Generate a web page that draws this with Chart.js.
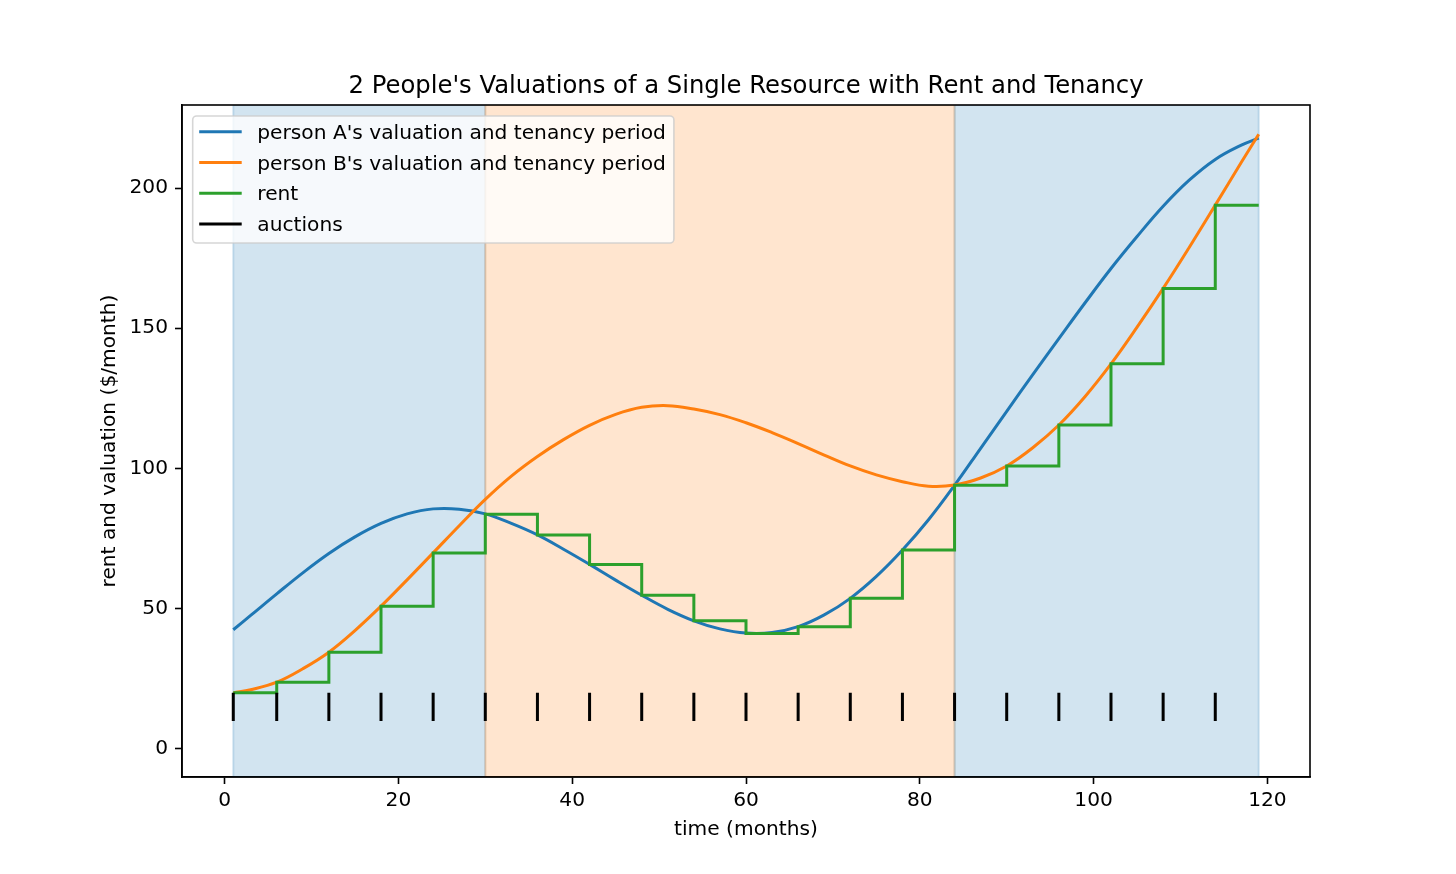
<!DOCTYPE html>
<html>
<head>
<meta charset="utf-8">
<script src="https://cdn.jsdelivr.net/npm/chart.js@4.4.1/dist/chart.umd.min.js"></script>
<style>
  html, body { margin: 0; padding: 0; background: #fff; }
  #wrap { width: 1456px; height: 874px; }
</style>
</head>
<body>
<div id="wrap"><canvas id="chart" width="1456" height="874"></canvas></div>
<script>
var months = [1, 3, 6, 9, 12, 15, 18, 21, 24, 27, 30, 33, 36, 39, 42, 45, 48, 51, 54, 57,
              60, 63, 66, 69, 72, 75, 78, 81, 84, 87, 90, 93, 96, 99, 102, 105, 108, 111, 114, 117, 119];
var valuationA = [42.5, 47.6, 55.3, 62.8, 69.7, 75.6, 80.4, 83.8, 85.6, 85.5, 83.8, 80.4, 76.3, 71.2, 65.8, 60.2, 54.8, 49.8, 45.7, 42.8,
                  41.3, 41.5, 43.6, 47.8, 53.7, 61.5, 70.9, 81.7, 94.0, 107.2, 120.4, 133.5, 146.3, 159.0, 171.3, 182.7, 193.5, 202.8, 210.2, 215.3, 217.8];
var valuationB = [20.0, 21.1, 23.8, 28.6, 34.5, 42.2, 50.9, 60.3, 69.9, 79.6, 89.0, 97.3, 104.3, 110.3, 115.4, 119.3, 121.8, 122.4, 121.2, 119.2,
                  116.3, 112.8, 108.9, 104.8, 100.9, 97.7, 95.3, 93.7, 94.1, 96.6, 100.9, 107.4, 115.5, 125.6, 137.3, 150.4, 164.2, 178.8, 193.9, 209.2, 219.2];

// auctions and the rent set at each one
var auctionMonths = [1, 6, 12, 18, 24, 30, 36, 42, 48, 54, 60, 66, 72, 78, 84, 90, 96, 102, 108, 114];
var rentAtAuction = [20.0, 23.8, 34.5, 50.9, 69.9, 83.7, 76.3, 65.8, 54.8, 45.7, 41.2, 43.6, 53.7, 70.9, 94.0, 100.9, 115.5, 137.3, 164.2, 193.9];
var lastMonth = 119;
var auctionMarkLow = 10;
var auctionMarkHigh = 20;

// tenancy periods (0 = person A, 1 = person B)
var tenancyStart = [1, 30, 84];
var tenancyEnd = [30, 84, 119];
var tenant = [0, 1, 0];

var xTicks = [0, 20, 40, 60, 80, 100, 120];
var yTicks = [0, 50, 100, 150, 200];

var chartTitle = "2 People's Valuations of a Single Resource with Rent and Tenancy";
var personColors = ['#1f77b4', '#ff7f0e'];
var spanFill = ['rgba(31,119,180,0.2)', 'rgba(255,127,14,0.2)'];
var FONT = 'DejaVu Sans';

function toPoints(xs, ys) {
    return xs.map(function (x, i) { return { x: x, y: ys[i] }; });
}

var rentPoints = toPoints(auctionMonths, rentAtAuction);
rentPoints.push({ x: lastMonth, y: rentAtAuction[rentAtAuction.length - 1] });

var auctionPoints = [];
auctionMonths.forEach(function (m) {
    auctionPoints.push({ x: m, y: auctionMarkLow }, { x: m, y: auctionMarkHigh }, { x: m, y: null });
});

var tenancyShading = {
    id: 'tenancyShading',
    beforeDatasetsDraw: function (chart) {
        var ctx = chart.ctx, area = chart.chartArea, xs = chart.scales.x;
        ctx.save();
        ctx.beginPath();
        ctx.rect(area.left, area.top, area.right - area.left, area.bottom - area.top);
        ctx.clip();
        for (var i = 0; i < tenancyStart.length; i++) {
            var x0 = xs.getPixelForValue(tenancyStart[i]);
            var x1 = xs.getPixelForValue(tenancyEnd[i]);
            ctx.fillStyle = spanFill[tenant[i]];
            ctx.fillRect(x0, area.top, x1 - x0, area.bottom - area.top);
            ctx.strokeStyle = spanFill[tenant[i]];
            ctx.lineWidth = 2;
            ctx.strokeRect(x0, area.top, x1 - x0, area.bottom - area.top);
        }
        ctx.restore();
    }
};

var frameTitleLegend = {
    id: 'frameTitleLegend',
    afterDraw: function (chart) {
        var ctx = chart.ctx, area = chart.chartArea;
        ctx.save();
        // four spines
        ctx.strokeStyle = '#000';
        ctx.lineWidth = 1.6;
        ctx.strokeRect(area.left, area.top, area.right - area.left, area.bottom - area.top);

        // title centred over the axes
        ctx.fillStyle = '#000';
        ctx.font = '24.3px "' + FONT + '"';
        ctx.textAlign = 'center';
        ctx.textBaseline = 'alphabetic';
        ctx.fillText(chartTitle, (area.left + area.right) / 2, area.top - 12.5);

        // legend box, top left
        var sets = chart.data.datasets;
        ctx.font = '20.2px "' + FONT + '"';
        ctx.textAlign = 'left';
        var textW = 0;
        sets.forEach(function (d) { textW = Math.max(textW, ctx.measureText(d.label).width); });
        var left = area.left + 10.7, top = area.top + 11;
        var w = 8 + 40.4 + 16.2 + textW + 8, h = 127;
        var r = 4;
        ctx.beginPath();
        ctx.moveTo(left + r, top);
        ctx.arcTo(left + w, top, left + w, top + h, r);
        ctx.arcTo(left + w, top + h, left, top + h, r);
        ctx.arcTo(left, top + h, left, top, r);
        ctx.arcTo(left, top, left + w, top, r);
        ctx.closePath();
        ctx.fillStyle = 'rgba(255,255,255,0.8)';
        ctx.fill();
        ctx.strokeStyle = 'rgba(204,204,204,0.8)';
        ctx.lineWidth = 1.6;
        ctx.stroke();

        sets.forEach(function (d, i) {
            var y = top + 15.7 + i * 30.8;
            ctx.beginPath();
            ctx.moveTo(left + 6.5, y);
            ctx.lineTo(left + 49, y);
            ctx.strokeStyle = d.borderColor;
            ctx.lineWidth = d.borderWidth;
            ctx.stroke();
            ctx.fillStyle = '#000';
            ctx.fillText(d.label, left + 64.6, y + 7);
        });
        ctx.restore();
    }
};

Chart.defaults.font.family = FONT;
Chart.defaults.color = '#000';

var axisFont = { family: FONT, size: 20.2 };

new Chart(document.getElementById('chart').getContext('2d'), {
    type: 'line',
    data: {
        datasets: [{
            label: "person A's valuation and tenancy period",
            data: toPoints(months, valuationA),
            borderColor: personColors[0],
            borderWidth: 3,
            pointRadius: 0,
            tension: 0.4,
            order: 4
        }, {
            label: "person B's valuation and tenancy period",
            data: toPoints(months, valuationB),
            borderColor: personColors[1],
            borderWidth: 3,
            pointRadius: 0,
            tension: 0.4,
            order: 3
        }, {
            label: 'rent',
            data: rentPoints,
            borderColor: '#2ca02c',
            borderWidth: 3,
            pointRadius: 0,
            stepped: 'before',
            order: 2
        }, {
            label: 'auctions',
            data: auctionPoints,
            borderColor: '#000',
            borderWidth: 3,
            pointRadius: 0,
            spanGaps: false,
            order: 1
        }]
    },
    options: {
        responsive: false,
        animation: false,
        events: [],
        devicePixelRatio: 1,
        layout: { padding: { top: 105, right: 146, left: 0, bottom: 0 } },
        plugins: {
            legend: { display: false },
            tooltip: { enabled: false },
            title: { display: false }
        },
        scales: {
            x: {
                type: 'linear',
                min: -4.9,
                max: 124.9,
                afterBuildTicks: function (s) { s.ticks = xTicks.map(function (v) { return { value: v }; }); },
                afterFit: function (s) { s.height = 97; },
                ticks: { font: axisFont, color: '#000', padding: 5, maxRotation: 0, autoSkip: false },
                grid: { drawOnChartArea: false, tickLength: 7, tickWidth: 1.6, tickColor: '#000' },
                border: { color: '#000', width: 1.6 },
                title: { display: true, text: 'time (months)', font: axisFont, color: '#000', padding: { top: 0, bottom: 32 } }
            },
            y: {
                type: 'linear',
                min: -10,
                max: 229.6,
                afterBuildTicks: function (s) { s.ticks = yTicks.map(function (v) { return { value: v }; }); },
                afterFit: function (s) { s.width = 182; },
                ticks: { font: axisFont, color: '#000', padding: 7, autoSkip: false },
                grid: { drawOnChartArea: false, tickLength: 7, tickWidth: 1.6, tickColor: '#000' },
                border: { color: '#000', width: 1.6 },
                title: { display: true, text: 'rent and valuation ($/month)', font: axisFont, color: '#000', padding: { top: 98, bottom: 0 } }
            }
        }
    },
    plugins: [tenancyShading, frameTitleLegend]
});
</script>
</body>
</html>
